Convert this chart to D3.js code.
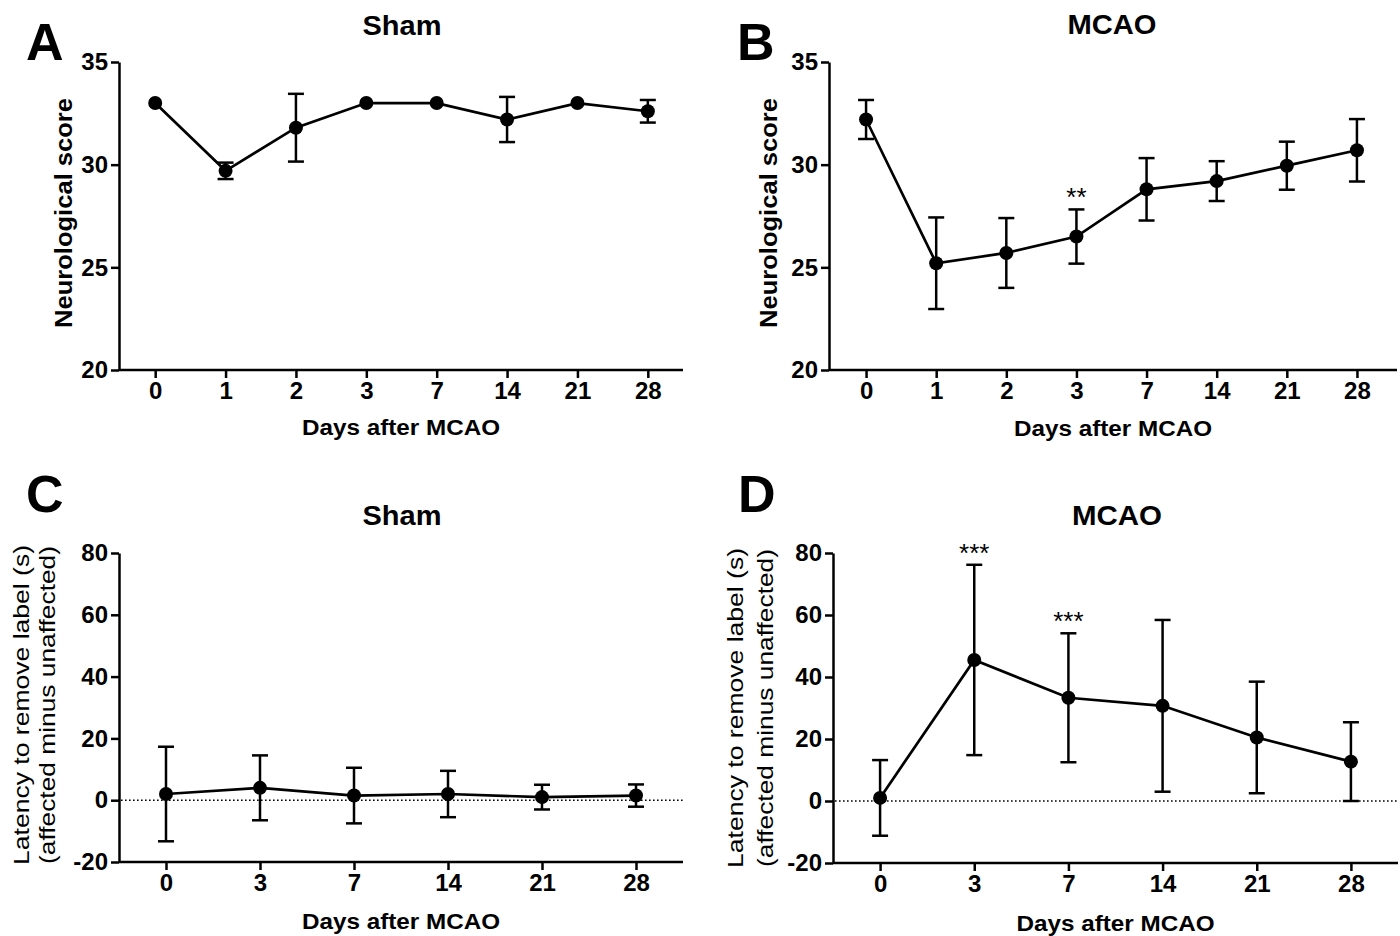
<!DOCTYPE html>
<head>
<meta charset="UTF-8">
<script src="https://cdn.jsdelivr.net/npm/d3@7"></script>
<style>
body { margin: 0; background: #fff; }
svg { display: block; }
text { font-family: "Liberation Sans", Arial, sans-serif; fill: #000; }
.axis path, .axis line { stroke: #000; stroke-width: 2.5px; }
.axis text { font-size: 24px; font-weight: bold; font-family: "Liberation Sans Narrow", "Arial Narrow", "Liberation Sans", sans-serif; }
.series { fill: none; stroke: #000; stroke-width: 2.7px; }
.err { stroke: #000; stroke-width: 2.5px; }
.dot { fill: #000; }
.zero { stroke: #000; stroke-width: 1.6px; stroke-dasharray: 1.6 2.4; }
</style>
</head>
<body>
<script>

// days on the x axis
var daysScore   = ["0", "1", "2", "3", "7", "14", "21", "28"];
var daysLatency = ["0", "3", "7", "14", "21", "28"];

// neurological score, mean and error
var shamScore     = [33.0, 29.7, 31.8, 33.0, 33.0, 32.2, 33.0, 32.6];
var shamScoreErr  = [0, 0.4, 1.65, 0, 0, 1.1, 0, 0.55];
var mcaoScore     = [32.2, 25.2, 25.7, 26.5, 28.8, 29.2, 29.95, 30.7];
var mcaoScoreErr  = [0.95, 2.23, 1.7, 1.32, 1.52, 0.97, 1.17, 1.52];
var mcaoScoreSig  = ["", "", "", "**", "", "", "", ""];

// latency to remove label, mean and error
var shamLatency    = [2, 4, 1.5, 2, 1, 1.5];
var shamLatencyErr = [15.3, 10.5, 9, 7.5, 4, 3.6];
var mcaoLatency    = [1, 45.5, 33.3, 30.7, 20.5, 12.7];
var mcaoLatencyErr = [12.2, 30.7, 20.8, 27.7, 18, 12.7];
var mcaoLatencySig = ["", "***", "***", "", "", ""];

var scoreTicks   = [20, 25, 30, 35];
var latencyTicks = [-20, 0, 20, 40, 60, 80];

var width = 1400, height = 936;

var svg = d3.select("body").append("svg")
    .attr("width", width)
    .attr("height", height);

svg.append("rect").attr("width", width).attr("height", height).attr("fill", "#fff");

function drawPanel(p) {
  var g = svg.append("g");

  var x = d3.scalePoint().domain(p.days).range(p.xr).padding(0.5);
  var y = d3.scaleLinear().domain(p.ydom).range([p.yb, p.yt]);

  var xAxis = g.append("g")
      .attr("class", "axis")
      .attr("transform", "translate(0," + p.yb + ")")
      .call(d3.axisBottom(x).tickSize(8).tickPadding(4).tickSizeOuter(0));
  xAxis.select(".domain").attr("d", "M" + p.x0 + ",0H" + p.x1);

  g.append("g")
      .attr("class", "axis")
      .attr("transform", "translate(" + p.x0 + ",0)")
      .call(d3.axisLeft(y).tickValues(p.ticks).tickSize(8).tickPadding(3).tickSizeOuter(0)
        .tickFormat(function(d) { return String(d); }));

  if (p.zero) {
    g.append("line")
        .attr("class", "zero")
        .attr("x1", p.x0 + 2).attr("x2", p.x1)
        .attr("y1", y(0)).attr("y2", y(0));
  }

  var pts = p.days.map(function(d, i) {
    return {day: d, v: p.values[i], e: p.errs[i], sig: p.sig ? p.sig[i] : ""};
  });

  g.append("path")
      .datum(pts)
      .attr("class", "series")
      .attr("d", d3.line().x(function(d) { return x(d.day); }).y(function(d) { return y(d.v); }));

  var eb = g.selectAll(".eb").data(pts.filter(function(d) { return d.e > 0; }))
    .enter().append("g").attr("class", "eb");
  eb.append("line").attr("class", "err")
      .attr("x1", function(d) { return x(d.day); }).attr("x2", function(d) { return x(d.day); })
      .attr("y1", function(d) { return y(d.v + d.e); }).attr("y2", function(d) { return y(d.v - d.e); });
  [1, -1].forEach(function(s) {
    eb.append("line").attr("class", "err")
        .attr("x1", function(d) { return x(d.day) - 8; }).attr("x2", function(d) { return x(d.day) + 8; })
        .attr("y1", function(d) { return y(d.v + s * d.e); }).attr("y2", function(d) { return y(d.v + s * d.e); });
  });

  g.selectAll(".dot").data(pts)
    .enter().append("circle")
      .attr("class", "dot")
      .attr("cx", function(d) { return x(d.day); })
      .attr("cy", function(d) { return y(d.v); })
      .attr("r", 7);

  g.selectAll(".sig").data(pts.filter(function(d) { return d.sig; }))
    .enter().append("text")
      .attr("x", function(d) { return x(d.day); })
      .attr("y", function(d) { return y(d.v + d.e) - 3; })
      .attr("text-anchor", "middle")
      .style("font-size", "26px")
      .text(function(d) { return d.sig; });

  // panel letter, title, axis titles
  g.append("text").attr("x", p.letterX).attr("y", p.letterY)
      .style("font-size", "52px").style("font-weight", "bold").text(p.letter);

  g.append("text").attr("x", p.titleX).attr("y", p.titleY)
      .attr("text-anchor", "middle")
      .attr("textLength", p.titleLen).attr("lengthAdjust", "spacingAndGlyphs")
      .style("font-size", "27px").style("font-weight", "bold").text(p.title);

  g.append("text").attr("x", (p.x0 + p.x1) / 2).attr("y", p.xlabY)
      .attr("text-anchor", "middle")
      .attr("textLength", 198).attr("lengthAdjust", "spacingAndGlyphs")
      .style("font-size", "22px").style("font-weight", "bold").text("Days after MCAO");

  p.ylab.forEach(function(l) {
    g.append("text")
        .attr("transform", "translate(" + l.x + "," + p.ylabY + ") rotate(-90)")
        .attr("text-anchor", "middle")
        .attr("textLength", l.len).attr("lengthAdjust", "spacingAndGlyphs")
        .style("font-size", l.size + "px").style("font-weight", l.weight).text(l.text);
  });
}

drawPanel({
  letter: "A", letterX: 26, letterY: 60,
  title: "Sham", titleX: 402, titleY: 35, titleLen: 79,
  days: daysScore, values: shamScore, errs: shamScoreErr,
  ydom: [20, 35], ticks: scoreTicks, yt: 62, yb: 370,
  x0: 119, x1: 683, xr: [120, 683], xlabY: 435,
  ylabY: 213,
  ylab: [{x: 72, text: "Neurological score", len: 230, size: 24, weight: "bold"}]
});

drawPanel({
  letter: "B", letterX: 737, letterY: 60,
  title: "MCAO", titleX: 1112, titleY: 34, titleLen: 89,
  days: daysScore, values: mcaoScore, errs: mcaoScoreErr, sig: mcaoScoreSig,
  ydom: [20, 35], ticks: scoreTicks, yt: 62, yb: 370,
  x0: 829, x1: 1397, xr: [831, 1392], xlabY: 436,
  ylabY: 213,
  ylab: [{x: 777, text: "Neurological score", len: 230, size: 24, weight: "bold"}]
});

drawPanel({
  letter: "C", letterX: 26, letterY: 512,
  title: "Sham", titleX: 402, titleY: 525, titleLen: 79,
  days: daysLatency, values: shamLatency, errs: shamLatencyErr, zero: true,
  ydom: [-20, 80], ticks: latencyTicks, yt: 553, yb: 862,
  x0: 119, x1: 683, xr: [119, 683], xlabY: 929,
  ylabY: 705,
  ylab: [{x: 29, text: "Latency to remove label (s)", len: 320, size: 22, weight: "normal"},
         {x: 55, text: "(affected minus unaffected)", len: 318, size: 22, weight: "normal"}]
});

drawPanel({
  letter: "D", letterX: 738, letterY: 512,
  title: "MCAO", titleX: 1117, titleY: 525, titleLen: 90,
  days: daysLatency, values: mcaoLatency, errs: mcaoLatencyErr, sig: mcaoLatencySig, zero: true,
  ydom: [-20, 80], ticks: latencyTicks, yt: 553, yb: 863,
  x0: 833, x1: 1398, xr: [833, 1398], xlabY: 931,
  ylabY: 708,
  ylab: [{x: 743, text: "Latency to remove label (s)", len: 320, size: 22, weight: "normal"},
         {x: 773, text: "(affected minus unaffected)", len: 318, size: 22, weight: "normal"}]
});

</script>
</body>
